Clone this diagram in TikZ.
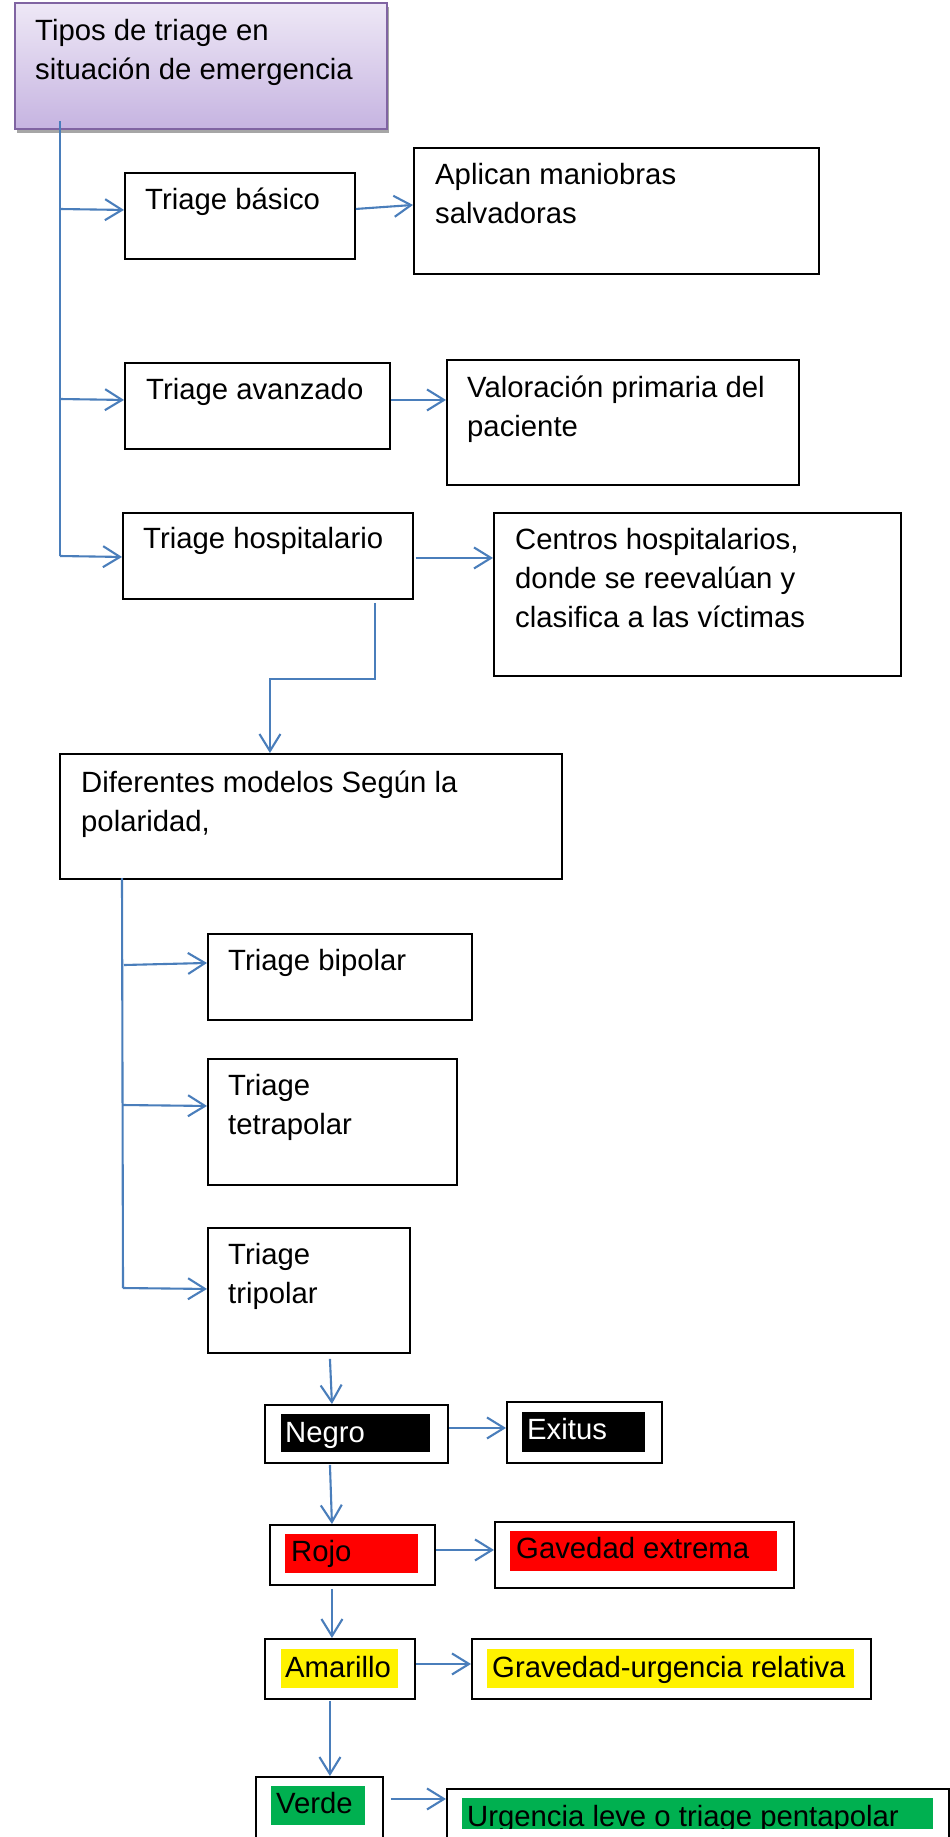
\documentclass[tikz,border=0pt]{standalone}
\usepackage{fontspec}
\setmainfont{Liberation Sans}
\usetikzlibrary{arrows.meta,shadows,calc}
\definecolor{arrowblue}{RGB}{74,126,187}
\definecolor{titleborder}{RGB}{128,100,162}
\definecolor{titletop}{RGB}{238,232,246}
\definecolor{titlebottom}{RGB}{198,180,225}
\definecolor{hlgreen}{RGB}{0,176,80}
\tikzset{
  box/.style={draw=black, line width=1.9pt, rectangle, inner sep=0pt, anchor=north west},
  titlebox/.style={draw=titleborder, line width=1.9pt, rectangle, inner sep=0pt, anchor=north west,
     top color=titletop, bottom color=titlebottom,
     drop shadow={shadow xshift=2pt, shadow yshift=-4pt, opacity=0.35, fill=black}},
  txt/.style={anchor=base west, inner sep=0pt, font=\fontsize{29.3pt}{39pt}\selectfont},
  arr/.style={draw=arrowblue, line width=2.1pt, -{Straight Barb[length=17pt, width=21pt]}},
  ln/.style={draw=arrowblue, line width=2.1pt},
}
\newcommand\ml[1]{\begin{tabular}[t]{@{}l@{}}#1\end{tabular}}
\begin{document}
\begin{tikzpicture}[x=1pt, y=-1pt]
\useasboundingbox (0,0) rectangle (950,1837);
\fill[white] (0,0) rectangle (950,1837);

% ---------- boxes ----------
\node[titlebox, minimum width=372pt, minimum height=126pt] (title) at (14,2) {};
\node[box, minimum width=230pt, minimum height=86pt] (basico) at (124,172) {};
\node[box, minimum width=405pt, minimum height=126pt] (aplican) at (413,147) {};
\node[box, minimum width=265pt, minimum height=86pt] (avanz) at (124,362) {};
\node[box, minimum width=352pt, minimum height=125pt] (valor) at (446,359) {};
\node[box, minimum width=290pt, minimum height=86pt] (hosp) at (122,512) {};
\node[box, minimum width=407pt, minimum height=163pt] (centros) at (493,512) {};
\node[box, minimum width=502pt, minimum height=125pt] (dif) at (59,753) {};
\node[box, minimum width=264pt, minimum height=86pt] (bip) at (207,933) {};
\node[box, minimum width=249pt, minimum height=126pt] (tetra) at (207,1058) {};
\node[box, minimum width=202pt, minimum height=125pt] (tri) at (207,1227) {};
\node[box, minimum width=183pt, minimum height=58pt] (negro) at (264,1404) {};
\node[box, minimum width=155pt, minimum height=61pt] (exitus) at (506,1401) {};
\node[box, minimum width=165pt, minimum height=60pt] (rojo) at (269,1524) {};
\node[box, minimum width=299pt, minimum height=66pt] (gav) at (494,1521) {};
\node[box, minimum width=150pt, minimum height=60pt] (amar) at (264,1638) {};
\node[box, minimum width=399pt, minimum height=60pt] (grav) at (471,1638) {};
\node[box, minimum width=127pt, minimum height=100pt] (verde) at (255,1776) {};
\node[box, minimum width=502pt, minimum height=100pt] (urg) at (446,1788) {};

% ---------- highlight fills ----------
\fill[black] (281,1414) rectangle (430,1452);
\fill[black] (522,1412) rectangle (645,1452);
\fill[red] (285,1534) rectangle (418,1573);
\fill[red] (510,1531) rectangle (777,1571);
\fill[yellow] (281,1649) rectangle (398,1688);
\fill[yellow] (487,1649) rectangle (854,1688);
\fill[hlgreen] (271,1786) rectangle (365,1825);

% ---------- texts ----------
\node[txt] (tTitle) at (35,40) {\ml{Tipos de triage en\\situación de emergencia}};
\node[txt] (tBasico) at (145,209) {Triage básico};
\node[txt] (tAplican) at (435,184) {\ml{Aplican maniobras\\salvadoras}};
\node[txt] (tAvanz) at (146,399) {Triage avanzado};
\node[txt] (tValor) at (467,397) {\ml{Valoración primaria del\\paciente}};
\node[txt] (tHosp) at (143,548) {Triage hospitalario};
\node[txt] (tCentros) at (515,549) {\ml{Centros hospitalarios,\\donde se reevalúan y\\clasifica a las víctimas}};
\node[txt] (tDif) at (81,792) {\ml{Diferentes modelos Según la\\polaridad,}};
\node[txt] (tBip) at (228,970) {Triage bipolar};
\node[txt] (tTetra) at (228,1095) {\ml{Triage\\tetrapolar}};
\node[txt] (tTri) at (228,1264) {\ml{Triage\\tripolar}};
\node[txt, text=white] (tNegro) at (285,1442) {Negro};
\node[txt, text=white] (tExitus) at (527,1439) {Exitus};
\node[txt] (tRojo) at (291,1561) {Rojo};
\node[txt] (tGav) at (516,1558) {Gavedad extrema};
\node[txt] (tAmar) at (285,1677) {Amarillo};
\node[txt] (tGrav) at (492,1677) {Gravedad-urgencia relativa};
\node[txt] (tVerde) at (276,1813) {Verde};
\begin{scope}
  \clip (440,1780) rectangle (950,1828);
  \fill[hlgreen] (462,1798) rectangle (933,1837);
  \node[txt] (tUrg) at (467,1826) {Urgencia leve o triage pentapolar};
\end{scope}

% ---------- connectors ----------
\coordinate (trA) at (60,121);
\coordinate (trA1) at (60,209);
\coordinate (trA2) at (60,399);
\coordinate (trA3) at (60,556);
\draw[ln] (trA) -- (trA3);
\draw[arr] (trA1) -- ([yshift=6pt]basico.west);
\draw[arr] (trA2) -- ([yshift=6pt]avanz.west);
\draw[arr] (trA3) -- ([yshift=-1pt]hosp.west);

\draw[arr] ([yshift=7pt]basico.east) -- ([yshift=6pt]aplican.west);
\draw[arr] ([yshift=6pt]avanz.east) -- ([yshift=22.5pt]valor.west);
\draw[arr] ([xshift=2pt,yshift=-2pt]hosp.east) -- ([yshift=36.5pt]centros.west);

\draw[arr] ([xshift=107pt,yshift=-3pt]hosp.south) -- ++(0,76) -| ([xshift=-41pt]dif.north);

\coordinate (trB) at (122,878);
\coordinate (trB1) at (124,965);
\coordinate (trB2) at (123,1105);
\coordinate (trB3) at (123,1288);
\draw[ln] (trB) -- (trB3);
\draw[arr] (trB1) -- ([yshift=14pt]bip.west);
\draw[arr] (trB2) -- ([yshift=16pt]tetra.west);
\draw[arr] (trB3) -- ([yshift=1.5pt]tri.west);

\draw[arr] ([xshift=21pt,yshift=-5pt]tri.south) -- ([xshift=-24.5pt]negro.north);
\draw[arr] ([yshift=6pt]negro.east) -- ([yshift=4.5pt]exitus.west);
\draw[arr] ([xshift=-26.5pt,yshift=-1pt]negro.south) -- ([xshift=-20.5pt]rojo.north);
\draw[arr] ([yshift=5pt]rojo.east) -- ([yshift=5pt]gav.west);
\draw[arr] ([xshift=-20.5pt,yshift=-3pt]rojo.south) -- ([xshift=-8pt]amar.north);
\draw[arr] ([yshift=5pt]amar.east) -- ([yshift=5pt]grav.west);
\draw[arr] ([xshift=-10pt,yshift=-1pt]amar.south) -- ([xshift=10.5pt]verde.north);
\draw[arr] ([xshift=7pt,yshift=28pt]verde.east) -- ([yshift=40pt]urg.west);
\end{tikzpicture}
\end{document}
